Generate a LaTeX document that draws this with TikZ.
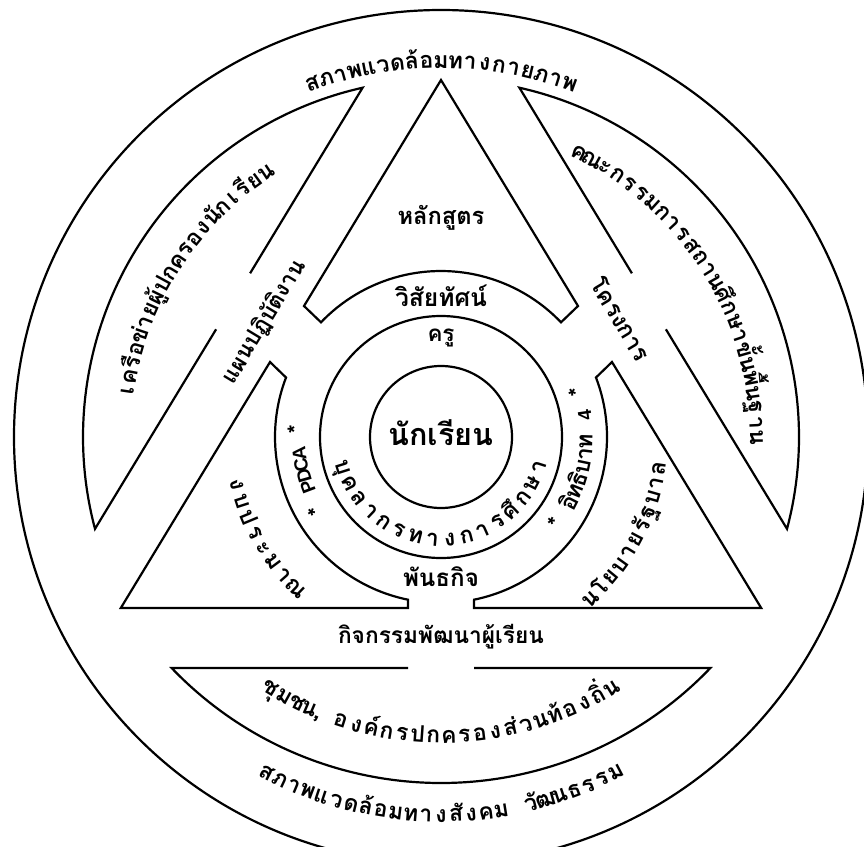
\documentclass[tikz,border=0pt]{standalone}
\usepackage{fontspec}
\newfontfamily\thaifont[Script=Thai]{Loma}
\newfontfamily\latsans{Liberation Sans}
\usetikzlibrary{calc}
\newlength\atw
\newcommand\tf{\thaifont\bfseries\fontsize{25pt}{29pt}\selectfont}
\newcommand\tfc{\thaifont\bfseries\fontsize{23pt}{27pt}\selectfont}
\newcommand\tfbig{\thaifont\bfseries\fontsize{31pt}{36pt}\selectfont}
\newcommand\psf{\latsans\bfseries\fontsize{19pt}{22pt}\selectfont}
\newcommand\fitw[2]{\resizebox{#1}{!}{\tf #2}}
% #1 centre, #2 baseline radius, #3 mid angle, #4 dir (1 ccw, -1 cw), #5 span (deg), #6 font, #7 clusters
\newcommand\arctext[7]{%
  \gdef\attotal{0}\gdef\atn{0}%
  \foreach \cl in {#7}{%
    \settowidth{\atw}{#6\cl}%
    \pgfmathsetmacro\attmp{\attotal+\atw}\xdef\attotal{\attmp}%
    \pgfmathsetmacro\attmp{\atn+1}\xdef\atn{\attmp}%
  }%
  \pgfmathsetmacro\atgap{max(((#5)*pi/180*(#2)-\attotal)/(\atn-1),1.2)}%
  \pgfmathsetmacro\atlen{\attotal+\atgap*(\atn-1)}%
  \gdef\atcum{0}%
  \foreach \cl in {#7}{%
    \settowidth{\atw}{#6\cl}%
    \pgfmathsetmacro\atphi{(#3)+(#4)*(\atcum+\atw/2-\atlen/2)/(#2)*180/pi}%
    \pgfmathsetmacro\atrot{\atphi+(#4)*90}%
    \node[anchor=base,inner sep=0pt,outer sep=0pt,rotate=\atrot] at ($(#1)+(\atphi:#2)$) {#6\cl};%
    \pgfmathsetmacro\attmp{\atcum+\atw+\atgap}\xdef\atcum{\attmp}%
  }%
}
\tikzset{
  shapeline/.style={line width=2.2pt, line join=miter},
  label/.style={inner sep=0pt, outer sep=0pt}
}
\begin{document}
\begin{tikzpicture}[x=1pt,y=1pt]
\useasboundingbox (0,0) rectangle (864,-846);
\clip (0,0) rectangle (864,-846);
\coordinate (C) at (441,-437);
\coordinate (Cb) at (441,-410);
% outer circle
\draw[shapeline] (C) circle[radius=427pt];
% top triangle
\draw[shapeline] (441,-80) -- (304,-306) -- ($(C)+(136.3:166)$) arc[start angle=136.3, end angle=43.7, radius=166pt] -- (578,-306) -- cycle;
% bottom-left triangle
\draw[shapeline] (270,-362) -- ($(C)+(159:166)$) arc[start angle=159, end angle=258.5, radius=166pt] -- (408,-608) -- (120.8,-608) -- cycle;
% bottom-right triangle
\draw[shapeline] (612,-362) -- ($(C)+(21:166)$) arc[start angle=21, end angle=-78.5, radius=166pt] -- (474,-608) -- (761.2,-608) -- cycle;
% bands
\draw[shapeline] (250.1,-273.3) -- ($(C)+(102.65:358)$) arc[start angle=102.65, end angle=194.87, radius=358pt] -- (216.1,-329.3);
\draw[shapeline] (631.9,-273.3) -- ($(C)+(77.35:358)$) arc[start angle=77.35, end angle=-14.87, radius=358pt] -- (665.9,-329.3);
\draw[shapeline] (408,-668) -- ($(Cb)+(223.76:373)$) arc[start angle=223.76, end angle=316.24, radius=373pt] -- (474,-668);
% rings
\draw[shapeline] (C) circle[radius=121pt];
\draw[shapeline] (C) circle[radius=71pt];
% straight labels
\node[label] (hls) at (441,-218) {\fitw{87pt}{หลักสูตร}};
\node[label] (vis) at (441,-296) {\fitw{92pt}{วิสัยทัศน์}};
\node[label] (kru) at (441,-338) {\fitw{27pt}{ครู}};
\node[label] (nak) at (441,-433) {\resizebox{105pt}{!}{\tfbig นักเรียน}};
\node[label] (pan) at (441,-577) {\fitw{76pt}{พันธกิจ}};
\node[label] (kij) at (441,-637) {\fitw{206pt}{กิจกรรมพัฒนาผู้เรียน}};
\node[label,rotate=58.8] (plan) at (264,-322) {\fitw{140pt}{แผนปฏิบัติงาน}};
\node[label,rotate=-58.8] (proj) at (621,-319) {\fitw{93pt}{โครงการ}};
% curved labels
\arctext{C}{369}{90}{-1}{40}{\tfc}{ส,ภ,า,พ,แ,ว,ด,ล้,อ,ม,ท,า,ง,ก,า,ย,ภ,า,พ}
\arctext{C}{385}{270}{1}{55}{\tfc}{ส,ภ,า,พ,แ,ว,ด,ล้,อ,ม,ท,า,ง,สั,ง,ค,ม,~,วั,ฒ,น,ธ,ร,ร,ม}
\arctext{Cb}{333}{270}{1}{63}{\tfc}{ชุ,ม,ช,{น,},~,อ,ง,ค์,ก,ร,ป,ก,ค,ร,อ,ง,ส่,ว,น,ท้,อ,ง,ถิ่,น}
\arctext{C}{310}{147.5}{-1}{48}{\tfc}{เ,ค,รื,อ,ข่,า,ย,ผู้,ป,ก,ค,ร,อ,ง,นั,ก,เ,รี,ย,น}
\arctext{C}{309}{32}{-1}{64}{\tfc}{ค,ณ,ะ,ก,ร,ร,ม,ก,า,ร,ส,ถ,า,น,ศึ,ก,ษ,า,ขั้,น,พื้,น,ฐ,า,น}
\arctext{C}{136}{193.6}{-1}{33}{\tfc}{*,~,{\psf P},{\psf D},{\psf C},{\psf A},~,*}
\arctext{C}{152}{-9.4}{1}{56}{\tfc}{*,~,อิ,ท,ธิ,บ,า,ท,~,{\psf 4},~,*}
\arctext{C}{109}{270}{1}{145}{\tfc}{บุ,ค,ล,า,ก,ร,ท,า,ง,ก,า,ร,ศึ,ก,ษ,า}
\arctext{C}{216}{209.6}{1}{33}{\tfc}{ง,บ,ป,ร,ะ,ม,า,ณ}
\arctext{C}{227}{-27.8}{1}{39}{\tfc}{น,โ,ย,บ,า,ย,รั,ฐ,บ,า,ล}
\end{tikzpicture}
\end{document}
